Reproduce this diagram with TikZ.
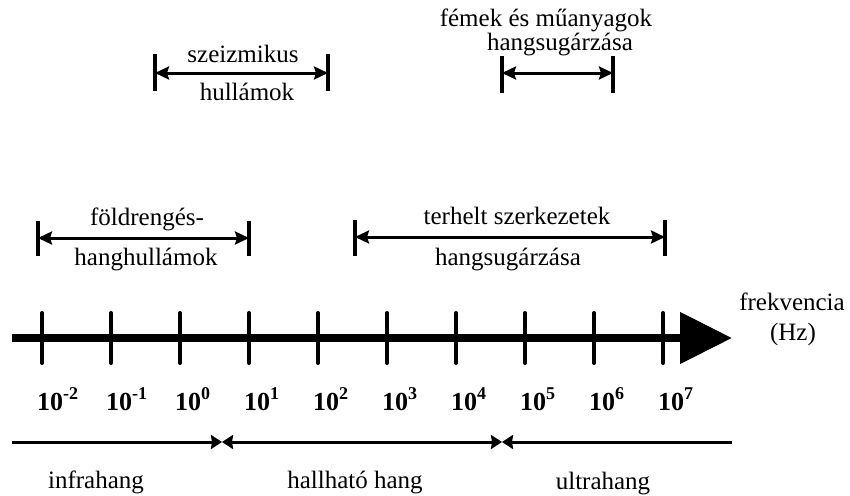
\documentclass[tikz,border=0pt]{standalone}
\usepackage{fontspec}
\setmainfont{Liberation Serif}
\usetikzlibrary{arrows.meta}
\tikzset{
  lbl/.style={font=\fontsize{25}{25}\selectfont, inner sep=0pt, anchor=base},
  ticklbl/.style={font=\fontsize{26}{26}\selectfont\bfseries, inner sep=0pt, anchor=base west},
  rangebar/.style={line width=3.5pt},
  rangearrow/.style={line width=3pt, {Stealth[length=14pt,width=13pt,inset=2pt]}-{Stealth[length=14pt,width=13pt,inset=2pt]}},
  bottomline/.style={line width=3pt},
  bowtip/.tip={Stealth[length=11pt,width=14pt,inset=1pt]},
  axisline/.style={line width=8pt, -{Triangle[length=52pt,width=50pt]}},
  tickmark/.style={line width=4pt, line cap=round}
}
\newcommand{\tlabel}[1]{10\raisebox{11pt}{\fontsize{18}{18}\selectfont\bfseries #1}}
\begin{document}
\begin{tikzpicture}[x=1pt,y=-1pt]
\useasboundingbox (0,0) rectangle (850,495);

% ---- range: földrengés-hanghullámok
\coordinate (fL) at (38,238);
\coordinate (fR) at (249,238);
\draw[rangebar] ([yshift=-18pt]fL) -- ([yshift=17pt]fL);
\draw[rangebar] ([yshift=-18pt]fR) -- ([yshift=17pt]fR);
\draw[rangearrow] (fL) -- (fR);
\node[lbl] (f1) at (147,225) {földrengés-};
\node[lbl] (f2) at (146,265) {hanghullámok};

% ---- range: terhelt szerkezetek hangsugárzása
\coordinate (tL) at (355,237);
\coordinate (tR) at (665,237);
\draw[rangebar] ([yshift=-19pt]tL) -- ([yshift=17pt]tL);
\draw[rangebar] ([yshift=-19pt]tR) -- ([yshift=17pt]tR);
\draw[rangearrow] (tL) -- (tR);
\node[lbl] (t1) at (517,224) {terhelt szerkezetek};
\node[lbl] (t2) at (508,265) {hangsugárzása};

% ---- range: szeizmikus hullámok
\coordinate (sL) at (155,73);
\coordinate (sR) at (328,73);
\draw[rangebar] ([yshift=-18pt]sL) -- ([yshift=19pt]sL);
\draw[rangebar] ([yshift=-18pt]sR) -- ([yshift=19pt]sR);
\draw[rangearrow] (sL) -- (sR);
\node[lbl] (s1) at (243,63) {szeizmikus};
\node[lbl] (s2) at (247,100) {hullámok};

% ---- range: fémek és műanyagok hangsugárzása
\coordinate (mL) at (502,73);
\coordinate (mR) at (613,73);
\draw[rangebar] ([yshift=-20pt]mL) -- ([yshift=17pt]mL);
\draw[rangebar] ([yshift=-20pt]mR) -- ([yshift=17pt]mR);
\draw[rangearrow] (mL) -- (mR);
\node[lbl] (m1) at (546,27) {fémek és műanyagok};
\node[lbl] (m2) at (560,50) {hangsugárzása};

% ---- main frequency axis
\coordinate (axS) at (12,338);
\coordinate (axE) at (732,338);
\draw[axisline] (axS) -- (axE);
\foreach \i/\e in {0/-2,1/-1,2/0,3/1,4/2,5/3,6/4,7/5,8/6,9/7} {
  \coordinate (tk\i) at ({42+69*\i},338);
  \draw[tickmark] ([yshift=-25pt]tk\i) -- ([yshift=25pt]tk\i);
  \node[ticklbl] (tl\i) at ({37+69*\i},410) {\tlabel{\e}};
}
\node[lbl] (fr) at (792,310) {frekvencia};
\node[lbl] (hz) at (793,340) {(Hz)};

% ---- bottom ranges
\coordinate (b0) at (12,442);
\coordinate (b1) at (222,442);
\coordinate (b2) at (502,442);
\coordinate (b3) at (732,442);
\draw[bottomline, -bowtip] (b0) -- (b1);
\draw[bottomline, bowtip-bowtip] (b1) -- (b2);
\draw[bottomline, bowtip-] (b2) -- (b3);
\node[lbl] (inf) at (96,488) {infrahang};
\node[lbl] (hal) at (355,488) {hallható hang};
\node[lbl] (ult) at (603,489) {ultrahang};
\end{tikzpicture}
\end{document}
